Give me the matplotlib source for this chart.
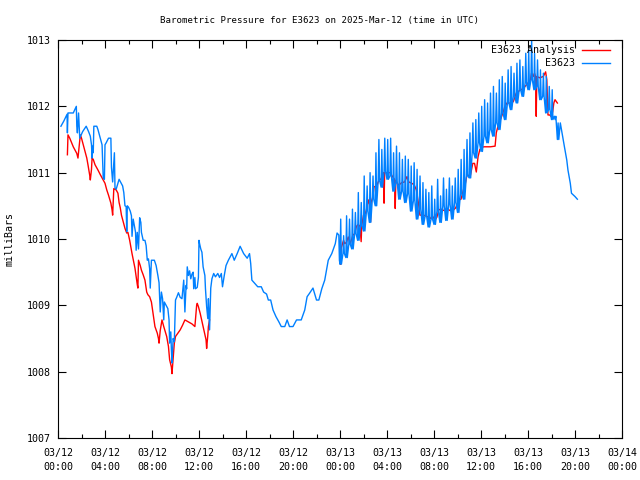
import numpy as np
import matplotlib
matplotlib.use('Agg')
import matplotlib.pyplot as plt

# dados (horas desde 03/12 00:00 UTC, milibares)
red_t = [0.8, 0.85, 1.0, 1.3, 1.6, 1.7, 1.9, 2.0, 2.15, 2.3, 2.45, 2.55, 2.7, 2.75, 2.85, 2.9,
         3.0, 3.15, 3.4, 3.6, 3.85, 4.0, 4.15, 4.3, 4.5, 4.6, 4.65, 4.75, 4.95, 5.1, 5.2, 5.3,
         5.4, 5.55, 5.7, 5.85, 5.95, 6.1, 6.2, 6.3, 6.45, 6.55, 6.65, 6.75, 6.8, 6.85, 7.0, 7.1,
         7.25, 7.4, 7.55, 7.65, 7.8, 7.95, 8.05, 8.15, 8.25, 8.45, 8.55, 8.6, 8.7, 8.8, 8.85,
         9.0, 9.1, 9.25, 9.4, 9.5, 9.65, 9.7, 9.8, 9.9, 10.0, 10.2, 10.4, 10.6, 10.8, 11.1,
         11.4, 11.65, 11.8, 11.85, 11.95, 12.1, 12.35, 12.5, 12.6, 12.65, 12.75, 12.8, 12.9,
         np.nan,
         24.0, 24.05, 24.1, 24.3, 24.4, 24.55, 24.7, 24.85, 25.0, 25.1, 25.25, 25.4, 25.55,
         25.7, 25.8, 25.85, 26.0, 26.15, 26.25, 26.4, 26.5, 26.6, 26.65, 26.8, 26.9, 27.1,
         27.25, 27.5, 27.7, 27.75, 27.8, 28.0, 28.3, 28.4, 28.55, 28.65, 28.7, 28.75, 29.0,
         29.25, 29.5, 29.7, 29.85, 30.1, 30.3, 30.5, 30.7, 30.8, 31.1, 31.4, 31.7, 31.85, 32.0,
         32.1, 32.25, 32.4, 32.6, 32.8, 33.1, 33.35, 33.6, 33.85, 34.1, 34.3, 34.5, 34.65,
         34.8, 35.1, 35.2, 35.3, 35.45, 35.6, 35.75, 35.9, 36.2, 36.5, 36.8, 37.2, 37.3, 37.5,
         37.7, 37.9, 38.0, 38.2, 38.5, 38.75, 38.9, 39.0, 39.3, 39.6, 39.9, 40.2, 40.3, 40.45,
         40.55, 40.65, 40.7, 40.75, 41.0, 41.3, 41.5, 41.6, 41.7, 41.85, 42.0, 42.1, 42.2,
         42.3, 42.5]
red_v = [1011.27, 1011.57, 1011.52, 1011.39, 1011.29, 1011.22, 1011.57, 1011.52, 1011.42,
         1011.32, 1011.22, 1011.12, 1010.96, 1010.89, 1011.05, 1011.22, 1011.2, 1011.12,
         1011.04, 1010.97, 1010.89, 1010.84, 1010.74, 1010.66, 1010.54, 1010.44, 1010.36,
         1010.76, 1010.74, 1010.69, 1010.55, 1010.47, 1010.36, 1010.26, 1010.16, 1010.09,
         1010.1, 1009.98, 1009.88, 1009.78, 1009.65, 1009.56, 1009.43, 1009.31, 1009.26,
         1009.68, 1009.6, 1009.53, 1009.46, 1009.38, 1009.2, 1009.16, 1009.13, 1009.05,
         1008.93, 1008.82, 1008.68, 1008.58, 1008.5, 1008.43, 1008.62, 1008.73, 1008.78,
         1008.68, 1008.62, 1008.53, 1008.38, 1008.18, 1008.07, 1007.97, 1008.2, 1008.43,
         1008.53, 1008.58, 1008.63, 1008.7, 1008.78, 1008.75, 1008.72, 1008.68, 1009.0,
         1009.03, 1008.98, 1008.88, 1008.68, 1008.56, 1008.48, 1008.35, 1008.55, 1008.68,
         1008.78,
         np.nan,
         1009.68, 1009.62, 1009.86, 1009.98, 1009.93, 1009.95, 1010.03, 1009.93, 1010.0,
         1010.06, 1010.08, 1010.19, 1010.22, 1010.19, 1009.96, 1010.2, 1010.36, 1010.38,
         1010.44, 1010.59, 1010.52, 1010.26, 1010.55, 1010.64, 1010.79, 1010.79, 1010.86,
         1010.91, 1011.0, 1010.54, 1011.0, 1011.0, 1011.0, 1010.96, 1010.92, 1010.9, 1010.46,
         1010.88, 1010.81, 1010.85, 1010.86, 1010.94, 1010.86, 1010.84, 1010.82, 1010.74,
         1010.51, 1010.36, 1010.36, 1010.34, 1010.31, 1010.35, 1010.31, 1010.29, 1010.33,
         1010.44, 1010.45, 1010.43, 1010.46, 1010.43, 1010.43, 1010.47, 1010.59, 1010.6,
         1010.74, 1010.82, 1010.96, 1010.96, 1011.05, 1011.14, 1011.14, 1011.01, 1011.24,
         1011.35, 1011.39, 1011.39, 1011.39, 1011.4, 1011.6, 1011.74, 1011.82, 1011.92,
         1011.98, 1012.05, 1012.05, 1012.07, 1012.15, 1012.2, 1012.24, 1012.27, 1012.33,
         1012.4, 1012.5, 1012.45, 1012.5, 1012.45, 1011.85, 1012.45, 1012.43, 1012.45,
         1012.52, 1012.4, 1011.87, 1011.87, 1011.84, 1011.92, 1012.05, 1012.1, 1012.05]

# estacao E3623 - primeira parte (ate 23.95 h)
blue_t_a = [0.25, 0.5, 0.77, 0.8, 0.85, 1.3, 1.56, 1.6, 1.65, 1.75, 1.85, 2.1, 2.4, 2.6, 2.75,
            2.85, 2.9, 2.95, 3.0, 3.05, 3.3, 3.4, 3.6, 3.75, 3.85, 3.95, 4.0, 4.1, 4.3, 4.5,
            4.55, 4.65, 4.8, 4.85, 4.95, 5.2, 5.35, 5.5, 5.6, 5.7, 5.8, 5.85, 5.9, 6.0, 6.15,
            6.25, 6.3, 6.4, 6.5, 6.6, 6.65, 6.75, 6.85, 6.95, 7.05, 7.1, 7.25, 7.4, 7.5, 7.6,
            7.7, 7.8, 7.85, 7.95, 8.2, 8.35, 8.5, 8.6, 8.7, 8.8, 8.9, 9.0, 9.05, 9.2, 9.35,
            9.45, 9.5, 9.6, 9.65, 9.7, 9.8, 9.9, 10.0, 10.1, 10.25, 10.4, 10.55, 10.7, 10.8,
            10.9, 10.95, 11.0, 11.1, 11.2, 11.3, 11.4, 11.5, 11.55, 11.65, 11.7, 11.85, 11.95,
            12.0, 12.05, 12.15, 12.25, 12.35, 12.5, 12.55, 12.65, 12.75, 12.8, 12.9, 13.0,
            13.1, 13.25, 13.4, 13.6, 13.75, 13.9, 14.0, 14.15, 14.3, 14.5, 14.8, 15.0, 15.25,
            15.5, 15.8, 16.1, 16.3, 16.4, 16.5, 16.75, 17.0, 17.3, 17.5, 17.75, 17.9, 18.1,
            18.3, 18.55, 18.8, 19.0, 19.3, 19.5, 19.7, 20.0, 20.3, 20.7, 21.0, 21.2, 21.4,
            21.7, 22.0, 22.2, 22.45, 22.7, 23.0, 23.3, 23.6, 23.75, 23.9, 23.95]
blue_v_a = [1011.7, 1011.78, 1011.88, 1011.6, 1011.9, 1011.9, 1012.0, 1011.7, 1011.6,
            1011.9, 1011.52, 1011.62, 1011.7, 1011.62, 1011.55, 1011.42, 1011.22, 1011.4,
            1011.3, 1011.7, 1011.7, 1011.65, 1011.52, 1011.42, 1010.92, 1010.9, 1011.42,
            1011.45, 1011.52, 1011.52, 1011.08, 1010.86, 1011.3, 1010.77, 1010.75, 1010.9,
            1010.85, 1010.8, 1010.7, 1010.5, 1010.49, 1010.11, 1010.5, 1010.48, 1010.42,
            1010.35, 1010.04, 1010.3, 1010.2, 1010.1, 1009.83, 1010.1, 1009.85, 1010.32,
            1010.25, 1010.1, 1009.98, 1009.98, 1009.9, 1009.68, 1009.7, 1009.55, 1009.26,
            1009.68, 1009.68, 1009.6, 1009.45, 1009.34, 1008.9, 1009.2, 1009.1, 1008.78,
            1009.05, 1009.0, 1008.95, 1008.78, 1008.43, 1008.6, 1008.33, 1008.13, 1008.5,
            1008.45, 1009.08, 1009.12, 1009.19, 1009.12, 1009.1, 1009.38, 1008.9, 1009.3,
            1009.25, 1009.58, 1009.45, 1009.52, 1009.4, 1009.47, 1009.5, 1009.25, 1009.42,
            1009.25, 1009.27, 1009.42, 1009.98, 1009.93, 1009.85, 1009.8, 1009.58, 1009.45,
            1009.25, 1008.98, 1008.8, 1009.1, 1008.63, 1009.26, 1009.4, 1009.48, 1009.43,
            1009.48, 1009.42, 1009.48, 1009.28, 1009.45, 1009.6, 1009.68, 1009.78, 1009.68,
            1009.78, 1009.89, 1009.78, 1009.71, 1009.78, 1009.63, 1009.38, 1009.33, 1009.28,
            1009.28, 1009.2, 1009.17, 1009.08, 1009.08, 1008.93, 1008.83, 1008.75, 1008.68,
            1008.68, 1008.78, 1008.68, 1008.68, 1008.78, 1008.78, 1008.93, 1009.13, 1009.18,
            1009.26, 1009.08, 1009.08, 1009.25, 1009.38, 1009.68, 1009.78, 1009.93, 1010.09,
            1010.06, 1009.68]

# parte com oscilacao (24 h a 42.5 h): minimos a cada 0.25 h, picos estreitos
spike_lo = [1009.62, 1009.78, 1009.72, 1009.92, 1009.85, 1010.08, 1009.98, 1010.2, 1010.12,
            1010.42, 1010.25, 1010.6, 1010.5, 1010.88, 1010.78, 1011.02, 1010.9, 1010.95,
            1010.72, 1010.85, 1010.6, 1010.72, 1010.55, 1010.68, 1010.42, 1010.58, 1010.3,
            1010.45, 1010.22, 1010.35, 1010.18, 1010.3, 1010.22, 1010.42, 1010.25, 1010.5,
            1010.28, 1010.52, 1010.3, 1010.55, 1010.4, 1010.68, 1010.6, 1010.95, 1010.92,
            1011.3, 1011.22, 1011.45, 1011.32, 1011.55, 1011.45, 1011.65, 1011.55, 1011.75,
            1011.65, 1011.9, 1011.8, 1012.05, 1011.95, 1012.15, 1012.05, 1012.25, 1012.15,
            1012.35, 1012.25, 1012.4, 1012.25, 1012.3, 1012.1, 1012.15, 1011.9, 1011.95,
            1011.8, 1011.85, 1011.5]
spike_hi = [1010.3, 1010.05, 1010.35, 1010.3, 1010.45, 1010.4, 1010.7, 1010.55, 1010.95,
            1010.8, 1011.0, 1010.95, 1011.3, 1011.5, 1011.35, 1011.52, 1011.5, 1011.52,
            1011.3, 1011.4, 1011.3, 1011.2, 1011.25, 1011.2, 1011.1, 1011.15, 1011.05,
            1010.95, 1010.85, 1010.75, 1010.7, 1010.8, 1010.6, 1010.9, 1010.65, 1010.92,
            1010.75, 1010.92, 1010.8, 1010.92, 1011.05, 1011.2, 1011.35, 1011.5, 1011.6,
            1011.75, 1011.8, 1011.9, 1012.0, 1012.1, 1012.05, 1012.2, 1012.3, 1012.2,
            1012.4, 1012.45, 1012.35, 1012.55, 1012.6, 1012.5, 1012.65, 1012.7, 1012.6,
            1012.8, 1012.85, 1013.0, 1012.8, 1012.7, 1012.55, 1012.5, 1012.45, 1012.3,
            1012.25, 1011.8, 1011.75]

# final da serie
blue_t_c = [42.75, 42.95, 43.1, 43.3, 43.4, 43.6, 43.7, 44.0, 44.2]
blue_v_c = [1011.75, 1011.54, 1011.39, 1011.19, 1011.04, 1010.84, 1010.69, 1010.64, 1010.6]

xtick_labels = ['03/12\n00:00', '03/12\n04:00', '03/12\n08:00', '03/12\n12:00',
                '03/12\n16:00', '03/12\n20:00', '03/13\n00:00', '03/13\n04:00',
                '03/13\n08:00', '03/13\n12:00', '03/13\n16:00', '03/13\n20:00',
                '03/14\n00:00']

# juntar a serie azul (cada pico sobe e desce quase na vertical)
spike_t = []
spike_v = []
for i in range(len(spike_lo)):
    t0 = 24.0 + 0.25 * i
    spike_t += [t0, t0 + 0.06, t0 + 0.12]
    spike_v += [spike_lo[i], spike_hi[i], spike_lo[i]]
blue_t = blue_t_a + spike_t + blue_t_c
blue_v = blue_v_a + spike_v + blue_v_c

plt.rcParams['font.family'] = ['DejaVu Sans Mono']
plt.rcParams['font.size'] = 7.2

fig = plt.figure(figsize=(6.4, 4.8), dpi=100)
ax = fig.add_axes([58 / 640, 42 / 480, 564 / 640, 398 / 480])

ax.plot(red_t, red_v, color='#ff0000', linewidth=1.0)
ax.plot(blue_t, blue_v, color='#0080ff', linewidth=1.0)

ax.set_xlim(0, 48)
ax.set_ylim(1007, 1013)
ax.set_xticks(range(0, 49, 4))
ax.set_xticklabels(xtick_labels)
ax.set_xticks(range(0, 49, 2), minor=True)
ax.set_yticks(range(1007, 1014))
for lab in ax.get_xticklabels():
    lab.set_linespacing(1.55)

ax.tick_params(which='both', direction='in', top=True, right=True, width=0.8)
ax.tick_params(which='major', length=6)
ax.tick_params(which='minor', length=3)
ax.tick_params(axis='x', pad=7)
ax.tick_params(axis='y', pad=5)
for s in ax.spines.values():
    s.set_linewidth(0.8)

ax.set_ylabel('milliBars')
ax.yaxis.set_label_coords(-43 / 564, 0.5)
fig.text(0.5, 1 - 20 / 480, 'Barometric Pressure for E3623 on 2025-Mar-12 (time in UTC)',
         ha='center', va='center', fontsize=6.6)

# legenda no estilo do gnuplot
ax.text(0.9167, 0.975, 'E3623 Analysis', transform=ax.transAxes, ha='right', va='center')
ax.text(0.9167, 0.942, 'E3623', transform=ax.transAxes, ha='right', va='center')
ax.plot([0.929, 0.979], [0.975, 0.975], color='#ff0000', linewidth=1.0, transform=ax.transAxes)
ax.plot([0.929, 0.979], [0.942, 0.942], color='#0080ff', linewidth=1.0, transform=ax.transAxes)

fig.savefig('out.png', dpi=100)
